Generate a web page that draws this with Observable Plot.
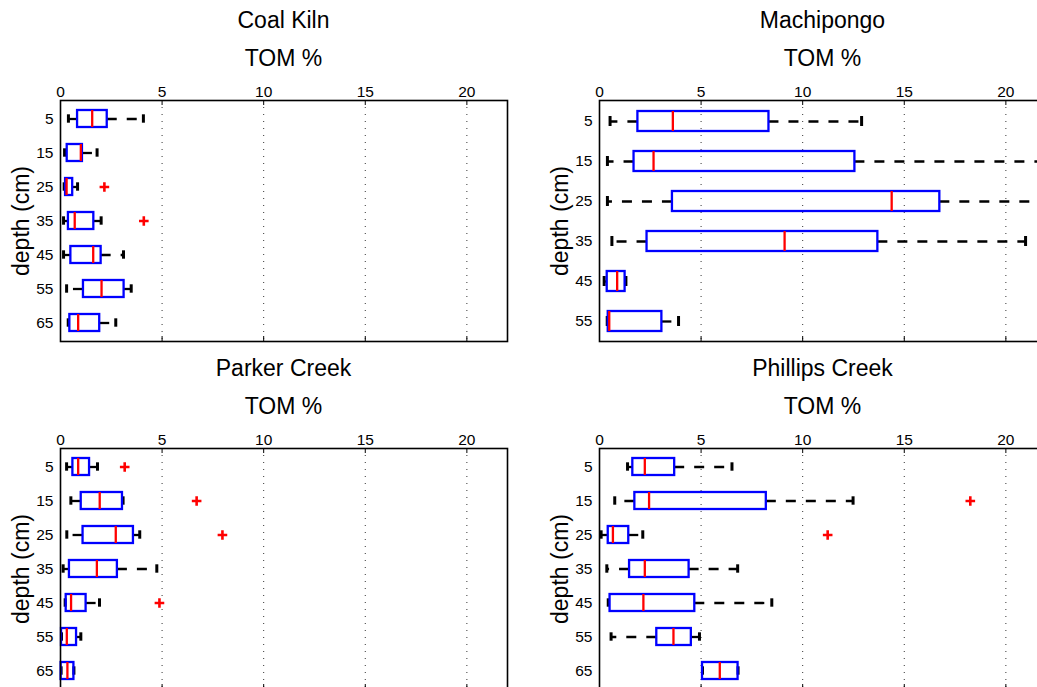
<!DOCTYPE html>
<html>
<head>
<meta charset="utf-8">
<script src="https://cdn.jsdelivr.net/npm/d3@7"></script>
<script src="https://cdn.jsdelivr.net/npm/@observablehq/plot@0.6"></script>
<style>
html, body { margin: 0; padding: 0; background: #fff; overflow: hidden; }
#root { position: relative; width: 1037px; height: 687px; overflow: hidden; background: #fff;
  font-family: "Liberation Sans", Arial, Helvetica, sans-serif; color: #000; }
.panel { position: absolute; }
.title { position: absolute; font-size: 23px; line-height: 23px; white-space: nowrap; transform: translateX(-50%); }
.ylab { position: absolute; font-size: 23px; line-height: 23px; white-space: nowrap; transform: translate(-50%, -50%) rotate(-90deg); }
</style>
</head>
<body>
<div id="root"></div>
<script>
// ---- axis ticks ----
const xTicks = [0, 5, 10, 15, 20];
const xGridTicks = [5, 10, 15, 20];
const xDomain = [0, 22];
const xLabel = "TOM %";
const yLabel = "depth (cm)";

// ---- Coal Kiln ----
const ckDepth = [5, 15, 25, 35, 45, 55, 65];
const ckLo  = [0.39, 0.20, 0.18, 0.15, 0.15, 0.30, 0.38];
const ckQ1  = [0.84, 0.33, 0.25, 0.39, 0.51, 1.13, 0.46];
const ckMed = [1.56, 1.00, 0.30, 0.70, 1.61, 2.02, 0.87];
const ckQ3  = [2.30, 1.08, 0.60, 1.64, 2.00, 3.13, 1.93];
const ckHi  = [4.08, 1.80, 0.84, 2.00, 3.10, 3.48, 2.72];
const ckOutDepth = [25, 35];
const ckOutVal   = [2.16, 4.10];

// ---- Machipongo ----
const mpDepth = [5, 15, 25, 35, 45, 55];
const mpLo  = [0.52, 0.39, 0.39, 0.61, 0.23, 0.38];
const mpQ1  = [1.89, 1.70, 3.59, 2.34, 0.38, 0.43];
const mpMed = [3.61, 2.66, 14.38, 9.11, 0.87, 0.48];
const mpQ3  = [8.34, 12.57, 16.75, 13.70, 1.26, 3.07];
const mpHi  = [12.90, 23.5, 23.5, 20.97, 1.30, 3.89];
const mpOutDepth = [];
const mpOutVal   = [];

// ---- Parker Creek ----
const pkDepth = [5, 15, 25, 35, 45, 55, 65];
const pkLo  = [0.30, 0.51, 0.31, 0.13, 0.23, 0.05, 0.03];
const pkQ1  = [0.61, 1.02, 1.11, 0.44, 0.28, 0.05, 0.03];
const pkMed = [0.87, 1.93, 2.72, 1.79, 0.52, 0.31, 0.34];
const pkQ3  = [1.43, 3.05, 3.59, 2.80, 1.26, 0.79, 0.66];
const pkHi  = [1.82, 3.08, 3.90, 4.74, 1.92, 1.00, 0.66];
const pkOutDepth = [5, 15, 25, 45];
const pkOutVal   = [3.16, 6.70, 7.97, 4.87];

// ---- Phillips Creek ----
const phDepth = [5, 15, 25, 35, 45, 55, 65];
const phLo  = [1.38, 0.75, 0.08, 0.36, 0.43, 0.57, 5.07];
const phQ1  = [1.64, 1.74, 0.43, 1.48, 0.52, 2.82, 5.07];
const phMed = [2.23, 2.44, 0.66, 2.23, 2.16, 3.64, 5.92];
const phQ3  = [3.70, 8.21, 1.44, 4.41, 4.69, 4.52, 6.82];
const phHi  = [6.52, 12.48, 2.13, 6.80, 8.48, 4.92, 6.82];
const phOutDepth = [15, 25];
const phOutVal   = [18.25, 11.23];

// ---- layout ----
const PW = 447, PH = 241;           // plot-area size
const ML = 60, MT = 30, MR = 2, MB = 2;
const FONT = '"Liberation Sans", Arial, Helvetica, sans-serif';
const root = document.getElementById("root");

function addDiv(cls, text, left, top) {
  const d = document.createElement("div");
  d.className = cls;
  d.textContent = text;
  d.style.left = left + "px";
  d.style.top = top + "px";
  root.appendChild(d);
}

function panel(site, depth, lo, q1, med, q3, hi, outDepth, outVal, svgLeft, svgTop) {
  const rows = depth.map((d, i) => ({depth: String(d), lo: lo[i], q1: q1[i], med: med[i], q3: q3[i], hi: hi[i]}));
  const outs = outDepth.map((d, i) => ({depth: String(d), v: outVal[i]}));
  const boxH = PH / depth.length * 0.5;
  const capInset = boxH / 4;
  const chart = Plot.plot({
    width: ML + PW + MR, height: MT + PH + MB,
    marginLeft: ML, marginTop: MT, marginRight: MR, marginBottom: MB,
    style: {fontFamily: FONT, fontSize: "15px", color: "#000", background: "transparent", maxWidth: "none", overflow: "hidden"},
    x: {domain: xDomain},
    y: {domain: depth.map(String), paddingInner: 0.5, paddingOuter: 0.25},
    marks: [
      Plot.gridX(xGridTicks, {stroke: "#000", strokeOpacity: 0.8, strokeWidth: 1, strokeDasharray: "1,6"}),
      Plot.ruleX(xTicks, {stroke: "#000", strokeWidth: 1, insetBottom: PH - 5}),
      Plot.ruleX(xTicks, {stroke: "#000", strokeWidth: 1, insetTop: PH - 5}),
      Plot.axisX(xTicks, {anchor: "top", tickSize: 0, tickPadding: 4, fontSize: 15.5, label: null}),
      Plot.axisY({anchor: "left", tickSize: 0, tickPadding: 7, fontSize: 15.5, label: null}),
      Plot.ruleY(rows, {y: "depth", x1: "q1", x2: "lo", stroke: "#000", strokeWidth: 2.3, strokeDasharray: "10,10", clip: true}),
      Plot.ruleY(rows, {y: "depth", x1: "q3", x2: "hi", stroke: "#000", strokeWidth: 2.3, strokeDasharray: "10,10", clip: true}),
      Plot.tickX(rows, {x: "lo", y: "depth", stroke: "#000", strokeWidth: 3, insetTop: capInset, insetBottom: capInset, clip: true}),
      Plot.tickX(rows, {x: "hi", y: "depth", stroke: "#000", strokeWidth: 3, insetTop: capInset, insetBottom: capInset, clip: true}),
      Plot.barX(rows, {y: "depth", x1: "q1", x2: "q3", fill: "none", stroke: "#0000ff", strokeWidth: 2.3}),
      Plot.tickX(rows, {x: "med", y: "depth", stroke: "#ff0000", strokeWidth: 2.3}),
      Plot.dot(outs, {x: "v", y: "depth", symbol: "plus", stroke: "#ff0000", strokeWidth: 2.6, r: 3.2}),
      Plot.frame({stroke: "#000", strokeWidth: 1.6})
    ]
  });
  const wrap = document.createElement("div");
  wrap.className = "panel";
  wrap.style.left = svgLeft + "px";
  wrap.style.top = svgTop + "px";
  wrap.style.width = (ML + PW + MR) + "px";
  wrap.style.height = (MT + PH + MB) + "px";
  wrap.appendChild(chart);
  root.appendChild(wrap);

  const cx = svgLeft + ML + PW / 2;
  addDiv("title", site, cx, svgTop - 61);
  addDiv("title", xLabel, cx, svgTop - 23);
  addDiv("ylab", yLabel, svgLeft + 20.5, svgTop + MT + PH / 2);
}

panel("Coal Kiln", ckDepth, ckLo, ckQ1, ckMed, ckQ3, ckHi, ckOutDepth, ckOutVal, 0, 70);
panel("Machipongo", mpDepth, mpLo, mpQ1, mpMed, mpQ3, mpHi, mpOutDepth, mpOutVal, 539, 70);
panel("Parker Creek", pkDepth, pkLo, pkQ1, pkMed, pkQ3, pkHi, pkOutDepth, pkOutVal, 0, 418);
panel("Phillips Creek", phDepth, phLo, phQ1, phMed, phQ3, phHi, phOutDepth, phOutVal, 539, 418);
</script>
</body>
</html>
